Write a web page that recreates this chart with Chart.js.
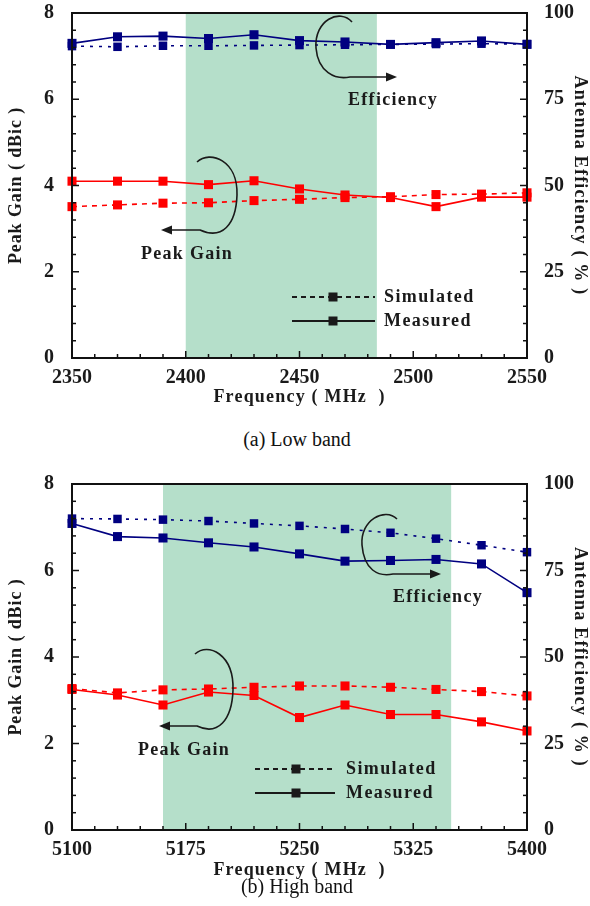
<!DOCTYPE html>
<html>
<head>
<meta charset="UTF-8">
<title>Peak gain and efficiency</title>
<script src="https://cdn.jsdelivr.net/npm/chart.js"></script>
<style>
  body { margin: 0; background: #fff; width: 590px; height: 906px; position: relative; overflow: hidden; }
  canvas { position: absolute; left: 0; }
  #c1 { top: 0; }
  #c2 { top: 470px; }
  .cap { position: absolute; left: 0; width: 594px; text-align: center;
         font-family: "Liberation Serif", serif; font-size: 20px; color: #111; }
</style>
</head>
<body>
<canvas id="c1" width="590" height="420"></canvas>
<div class="cap" style="top:428px">(a) Low band</div>
<canvas id="c2" width="590" height="410"></canvas>
<div class="cap" style="top:875px">(b) High band</div>

<script>
// ---- data ----
const freqLow = [2350, 2370, 2390, 2410, 2430, 2450, 2470, 2490, 2510, 2530, 2550];
const lowGainSim  = [3.51, 3.55, 3.59, 3.60, 3.65, 3.68, 3.72, 3.74, 3.79, 3.80, 3.83];
const lowGainMeas = [4.10, 4.10, 4.10, 4.02, 4.11, 3.92, 3.78, 3.72, 3.51, 3.73, 3.73];
const lowEffSim   = [90.4, 90.2, 90.5, 90.5, 90.6, 90.7, 90.8, 90.9, 91.0, 91.1, 91.0];
const lowEffMeas  = [91.2, 93.1, 93.3, 92.6, 93.7, 92.0, 91.6, 90.9, 91.4, 91.9, 90.9];
const lowBand = [2400, 2484];
const lowTicks = [2350, 2400, 2450, 2500, 2550];

const freqHigh = [5100, 5130, 5160, 5190, 5220, 5250, 5280, 5310, 5340, 5370, 5400];
const highGainSim  = [3.27, 3.17, 3.24, 3.26, 3.30, 3.33, 3.33, 3.30, 3.25, 3.20, 3.10];
const highGainMeas = [3.25, 3.12, 2.89, 3.19, 3.11, 2.60, 2.89, 2.67, 2.67, 2.50, 2.29];
const highEffSim   = [90.0, 89.9, 89.7, 89.3, 88.6, 87.9, 87.0, 85.9, 84.2, 82.3, 80.3];
const highEffMeas  = [88.6, 84.8, 84.4, 83.0, 81.8, 79.8, 77.7, 77.9, 78.2, 76.9, 68.6];
const highBand = [5160, 5350];
const highTicks = [5100, 5175, 5250, 5325, 5400];

const gainTicks = [0, 2, 4, 6, 8];
const effTicks = [0, 25, 50, 75, 100];

const SERIF = '"Liberation Serif", "Times New Roman", serif';
const RED = '#ff0000', BLUE = '#000080', INK = '#1a1a1a';

function pts(xs, ys) { return xs.map((x, i) => ({ x: x, y: ys[i] })); }

function boldText(ctx, s, x, y, size, spacing, align) {
  ctx.font = 'bold ' + size + 'px ' + SERIF;
  ctx.letterSpacing = spacing + 'px';
  ctx.textAlign = align || 'center';
  ctx.textBaseline = 'middle';
  ctx.fillStyle = INK;
  ctx.fillText(s, x, y);
}

const decor = {
  id: 'decor',
  beforeDatasetsDraw(chart, args, o) {
    const { ctx, chartArea: a, scales } = chart;
    const x0 = scales.x.getPixelForValue(o.band[0]);
    const x1 = scales.x.getPixelForValue(o.band[1]);
    ctx.save();
    ctx.fillStyle = '#b5dfca';
    ctx.fillRect(x0, a.top, x1 - x0, a.bottom - a.top);
    ctx.restore();
  },
  afterDraw(chart, args, o) {
    const { ctx, chartArea: a, scales } = chart;
    ctx.save();
    // frame
    ctx.strokeStyle = '#111';
    ctx.lineWidth = 2;
    ctx.strokeRect(a.left, a.top, a.right - a.left, a.bottom - a.top);

    // inward ticks
    ctx.lineWidth = 1.5;
    const xs = scales.x;
    for (let v = xs.min; v <= xs.max + 1e-6; v += o.xMinor) {
      const p = xs.getPixelForValue(v);
      const major = Math.abs(((v - xs.min) / o.xMinor) % o.xSub) < 1e-6;
      ctx.beginPath(); ctx.moveTo(p, a.bottom); ctx.lineTo(p, a.bottom - (major ? 7 : 4)); ctx.stroke();
    }
    const yl = scales.yGain;
    for (let i = 0; i <= 20; i++) {
      const p = yl.getPixelForValue(i * 0.4);
      const len = i % 5 === 0 ? 7 : 4;
      ctx.beginPath(); ctx.moveTo(a.left, p); ctx.lineTo(a.left + len, p); ctx.stroke();
    }
    const yr = scales.yEff;
    for (let i = 0; i <= 20; i++) {
      const p = yr.getPixelForValue(i * 5);
      const len = i % 5 === 0 ? 7 : 4;
      ctx.beginPath(); ctx.moveTo(a.right, p); ctx.lineTo(a.right - len, p); ctx.stroke();
    }

    // axis titles
    const cy = (a.top + a.bottom) / 2;
    boldText(ctx, 'Frequency ( MHz  )', (a.left + a.right) / 2, o.xTitleY, 18, 1.2);
    ctx.save(); ctx.translate(16, cy); ctx.rotate(-Math.PI / 2);
    boldText(ctx, 'Peak Gain ( dBic )', 0, 0, 18, 0.9); ctx.restore();
    ctx.save(); ctx.translate(580, cy); ctx.rotate(Math.PI / 2);
    boldText(ctx, 'Antenna Efficiency ( % )', 0, 0, 18, 1.2); ctx.restore();

    // legend
    const L = o.legend;
    ctx.strokeStyle = INK; ctx.fillStyle = INK; ctx.lineWidth = 2;
    [[L.y1, [5, 4], 'Simulated'], [L.y2, [], 'Measured']].forEach(r => {
      ctx.setLineDash(r[1]);
      ctx.beginPath(); ctx.moveTo(L.x0, r[0]); ctx.lineTo(L.x1, r[0]); ctx.stroke();
      ctx.setLineDash([]);
      ctx.fillStyle = INK;
      ctx.fillRect(L.cx - 4.5, r[0] - 4.5, 9, 9);
      boldText(ctx, r[2], L.tx, r[0], 18, 1.4, 'left');
    });

    // curved arrows and labels
    ctx.lineWidth = 1.6;
    o.arrows.forEach(A => {
      ctx.strokeStyle = INK; ctx.fillStyle = INK;
      ctx.beginPath();
      ctx.moveTo(A.p[0], A.p[1]);
      ctx.bezierCurveTo(A.p[2], A.p[3], A.p[4], A.p[5], A.p[6], A.p[7]);
      ctx.bezierCurveTo(A.p[8], A.p[9], A.p[10], A.p[11], A.p[12], A.p[13]);
      ctx.lineTo(A.tip[0] - A.dir * 9, A.tip[1]);
      ctx.stroke();
      ctx.beginPath();
      ctx.moveTo(A.tip[0], A.tip[1]);
      ctx.lineTo(A.tip[0] - A.dir * 11, A.tip[1] - 4.5);
      ctx.lineTo(A.tip[0] - A.dir * 11, A.tip[1] + 4.5);
      ctx.closePath(); ctx.fill();
      boldText(ctx, A.label, A.lx, A.ly, 18, 1.3);
    });
    ctx.restore();
  }
};

function makeChart(id, H, top, bottom, xs, gSim, gMeas, eSim, eMeas, xTicks, decorOpts) {
  const tickFont = { family: SERIF, weight: 'bold', size: 20 };
  const ds = (label, data, axis, color, dash, r) => ({
    label: label, data: data, yAxisID: axis,
    borderColor: color, backgroundColor: color, borderWidth: 1.6, borderDash: dash,
    pointStyle: 'rect', pointRadius: r, pointHoverRadius: r, pointBorderWidth: 0,
    tension: 0, clip: false
  });
  const noPad = s => { s.paddingTop = 0; s.paddingBottom = 0; s.paddingLeft = 0; s.paddingRight = 0; };
  return new Chart(document.getElementById(id), {
    type: 'line',
    data: {
      datasets: [
        ds('Efficiency simulated', pts(xs, eSim), 'yEff', BLUE, [3, 6], 6),
        ds('Efficiency measured', pts(xs, eMeas), 'yEff', BLUE, [], 6.4),
        ds('Gain simulated', pts(xs, gSim), 'yGain', RED, [5, 5], 6.4),
        ds('Gain measured', pts(xs, gMeas), 'yGain', RED, [], 6.4)
      ]
    },
    options: {
      responsive: false, animation: false, events: [],
      layout: { padding: { top: top, left: 0, right: 0, bottom: 0 } },
      plugins: { legend: { display: false }, tooltip: { enabled: false }, decor: decorOpts },
      scales: {
        x: {
          type: 'linear', min: xs[0], max: xs[xs.length - 1],
          afterBuildTicks: s => { s.ticks = xTicks.map(v => ({ value: v })); },
          afterFit: s => { s.height = H - bottom; noPad(s); },
          grid: { display: false }, border: { display: false },
          ticks: { font: tickFont, color: INK, padding: 0, maxRotation: 0, autoSkip: false,
                   callback: v => String(v) }
        },
        yGain: {
          position: 'left', min: 0, max: 8,
          afterBuildTicks: s => { s.ticks = gainTicks.map(v => ({ value: v })); },
          afterFit: s => { s.width = 72; noPad(s); },
          grid: { display: false }, border: { display: false },
          ticks: { font: tickFont, color: INK, padding: 10, callback: v => String(v) }
        },
        yEff: {
          position: 'right', min: 0, max: 100,
          afterBuildTicks: s => { s.ticks = effTicks.map(v => ({ value: v })); },
          afterFit: s => { s.width = 63; noPad(s); },
          grid: { display: false }, border: { display: false },
          ticks: { font: tickFont, color: INK, padding: 9, callback: v => String(v) }
        }
      }
    },
    plugins: [decor]
  });
}

makeChart('c1', 420, 13, 358, freqLow, lowGainSim, lowGainMeas, lowEffSim, lowEffMeas, lowTicks, {
  band: lowBand, xMinor: 10, xSub: 5, xTitleY: 397,
  legend: { x0: 292, x1: 375, cx: 333, tx: 384, y1: 297, y2: 321 },
  arrows: [
    { p: [352, 22, 340, 8, 314, 20, 316, 48, 318, 72, 335, 80, 350, 77], tip: [397, 77], dir: 1,
      label: 'Efficiency', lx: 393, ly: 100 },
    { p: [197, 162, 210, 150, 238, 160, 237, 195, 236, 225, 222, 240, 200, 230], tip: [161, 230], dir: -1,
      label: 'Peak Gain', lx: 187, ly: 254 }
  ]
});

makeChart('c2', 410, 14, 360, freqHigh, highGainSim, highGainMeas, highEffSim, highEffMeas, highTicks, {
  band: highBand, xMinor: 15, xSub: 5, xTitleY: 400,
  legend: { x0: 255, x1: 335, cx: 296, tx: 346, y1: 299, y2: 323 },
  arrows: [
    { p: [397, 49, 385, 37, 360, 50, 362, 75, 364, 100, 378, 107, 393, 104], tip: [441, 104], dir: 1,
      label: 'Efficiency', lx: 438, ly: 127 },
    { p: [195, 184, 208, 172, 234, 184, 233, 220, 232, 250, 218, 266, 197, 256], tip: [159, 256], dir: -1,
      label: 'Peak Gain', lx: 184, ly: 280 }
  ]
});
</script>
</body>
</html>
